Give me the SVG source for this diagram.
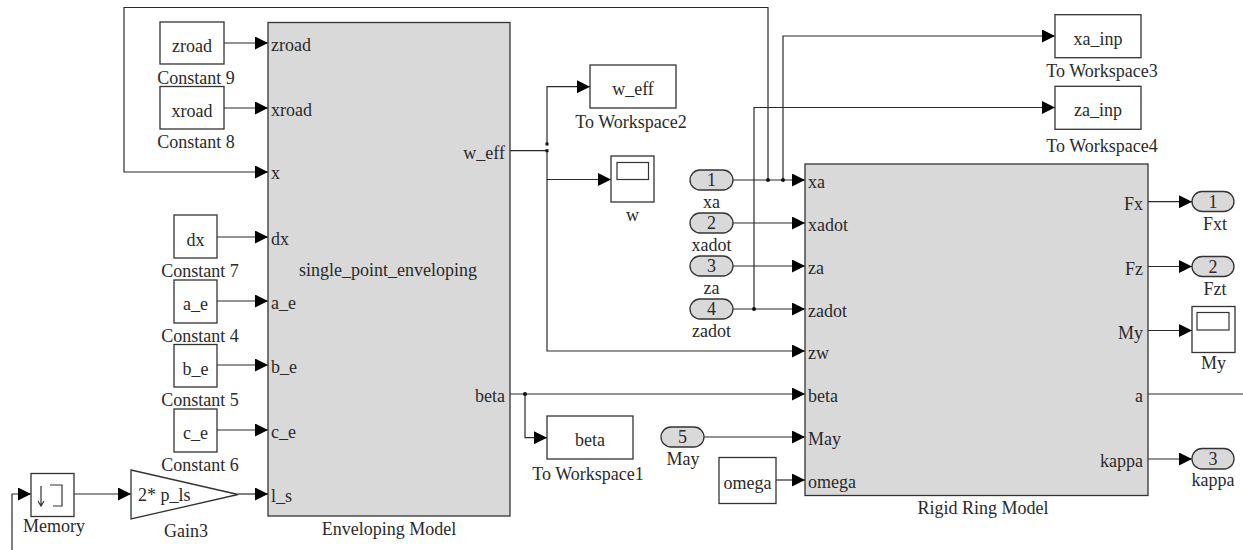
<svg xmlns="http://www.w3.org/2000/svg" width="1243" height="550" viewBox="0 0 1243 550">
  <style>
    text { font-family: "Liberation Serif", "Times New Roman", serif; font-size: 18px; fill: #2a2a2a; }
    .c { text-anchor: middle; }
    .r { text-anchor: end; }
    .blk { fill: #ffffff; stroke: #333333; stroke-width: 1.3; }
    .sub { fill: #d9d9d9; stroke: #333333; stroke-width: 1.3; }
    .port { fill: #d9d9d9; stroke: #333333; stroke-width: 1.3; }
    .wire { fill: none; stroke: #2a2a2a; stroke-width: 1.2; }
    .arr { marker-end: url(#head); }
    .dot { fill: #111111; }
    .icon { fill: none; stroke: #333333; stroke-width: 1.2; }
  </style>
  <defs>
    <marker id="head" markerUnits="userSpaceOnUse" markerWidth="13" markerHeight="13" refX="13" refY="6.5" orient="auto">
      <path d="M0,0 L13,6.5 L0,13 z" fill="#000000"/>
    </marker>
  </defs>

  <!-- signal lines -->
  <g id="connectors">
    <!-- feedback of x into the enveloping block -->
    <path class="wire arr" d="M768,180 V7.5 H124 V172 H268"/>
    <path class="wire arr" d="M224,43 H268"/>
    <path class="wire arr" d="M224,108 H268"/>
    <path class="wire arr" d="M217,237 H268"/>
    <path class="wire arr" d="M217,301 H268"/>
    <path class="wire arr" d="M217,365 H268"/>
    <path class="wire arr" d="M217,430 H268"/>
    <path class="wire arr" d="M12,550 V494 H31"/>
    <path class="wire arr" d="M74,494 H131"/>
    <path class="wire arr" d="M238,494 H268"/>
    <!-- w_eff distribution -->
    <path class="wire" d="M510,150.7 H547"/>
    <path class="wire arr" d="M547,144 V86.7 H590"/>
    <path class="wire arr" d="M547,150.7 V179.5 H611"/>
    <path class="wire arr" d="M547,179.5 V351 H805"/>
    <!-- beta distribution -->
    <path class="wire arr" d="M510,394 H805"/>
    <path class="wire arr" d="M525,394 V437.7 H547"/>
    <!-- inports to rigid ring -->
    <path class="wire arr" d="M733,180 H805"/>
    <path class="wire arr" d="M783,180 V36 H1055"/>
    <path class="wire arr" d="M733,223 H805"/>
    <path class="wire arr" d="M733,266 H805"/>
    <path class="wire arr" d="M733,309 H805"/>
    <path class="wire arr" d="M754,309 V107.5 H1055"/>
    <path class="wire arr" d="M704,437 H805"/>
    <path class="wire arr" d="M776,480 H805"/>
    <!-- rigid ring outputs -->
    <path class="wire arr" d="M1148,201.7 H1192"/>
    <path class="wire arr" d="M1148,266.5 H1192"/>
    <path class="wire arr" d="M1148,330.5 H1192"/>
    <path class="wire" d="M1148,394 H1243"/>
    <path class="wire arr" d="M1148,459 H1192"/>
    <!-- branch points -->
    <rect class="dot" x="545.5" y="142.5" width="3" height="3"/>
    <rect class="dot" x="545.5" y="149.2" width="3" height="3"/>
    <circle class="dot" cx="525" cy="394" r="2"/>
    <circle class="dot" cx="768" cy="180" r="2"/>
    <circle class="dot" cx="783" cy="180" r="2"/>
    <circle class="dot" cx="754" cy="309" r="2"/>
  </g>

  <!-- constants feeding the enveloping model -->
  <g id="constant9">
    <rect class="blk" x="160" y="22" width="64" height="42"/>
    <text class="c" x="192" y="52">zroad</text>
    <text class="c" x="196" y="84">Constant 9</text>
  </g>
  <g id="constant8">
    <rect class="blk" x="160" y="86.5" width="64" height="42.5"/>
    <text class="c" x="192" y="117">xroad</text>
    <text class="c" x="196" y="148">Constant 8</text>
  </g>
  <g id="constant7">
    <rect class="blk" x="174" y="215" width="43" height="43"/>
    <text class="c" x="195.5" y="245.5">dx</text>
    <text class="c" x="200" y="277">Constant 7</text>
  </g>
  <g id="constant4">
    <rect class="blk" x="174" y="280" width="43" height="43"/>
    <text class="c" x="195.5" y="310">a_e</text>
    <text class="c" x="200" y="342">Constant 4</text>
  </g>
  <g id="constant5">
    <rect class="blk" x="174" y="344.5" width="43" height="42.5"/>
    <text class="c" x="195.5" y="374.5">b_e</text>
    <text class="c" x="200" y="406">Constant 5</text>
  </g>
  <g id="constant6">
    <rect class="blk" x="174" y="409" width="43" height="43"/>
    <text class="c" x="195.5" y="439">c_e</text>
    <text class="c" x="200" y="471">Constant 6</text>
  </g>

  <!-- memory and gain -->
  <g id="memory">
    <rect class="blk" x="31" y="473.5" width="43" height="43"/>
    <path class="icon" d="M41,486 V506 M38,501 L41,506 L44,501 M50,485 H62 V506 H53"/>
    <text class="c" x="54" y="532">Memory</text>
  </g>
  <g id="gain3">
    <path class="blk" d="M131,470 L238,494.5 L131,519 Z"/>
    <text x="138" y="501">2* p_ls</text>
    <text class="c" x="186" y="537">Gain3</text>
  </g>

  <!-- enveloping subsystem -->
  <g id="enveloping-model">
    <rect class="sub" x="268" y="22.5" width="242" height="493.5"/>
    <text x="271" y="51">zroad</text>
    <text x="271" y="116">xroad</text>
    <text x="271" y="179">x</text>
    <text x="271" y="245">dx</text>
    <text x="271" y="309">a_e</text>
    <text x="271" y="373">b_e</text>
    <text x="271" y="438">c_e</text>
    <text x="271" y="502">l_s</text>
    <text class="r" x="505" y="159">w_eff</text>
    <text class="r" x="505" y="402">beta</text>
    <text class="c" x="388" y="276">single_point_enveloping</text>
    <text class="c" x="389" y="535">Enveloping Model</text>
  </g>

  <!-- workspace sinks and scopes -->
  <g id="to-workspace2">
    <rect class="blk" x="590" y="65" width="86" height="43"/>
    <text class="c" x="633" y="95">w_eff</text>
    <text class="c" x="631" y="128">To Workspace2</text>
  </g>
  <g id="scope-w">
    <rect class="blk" x="611" y="156" width="43" height="46"/>
    <rect class="icon" x="617" y="162.5" width="31.5" height="17"/>
    <text class="c" x="632.5" y="221">w</text>
  </g>
  <g id="to-workspace1">
    <rect class="blk" x="547" y="416" width="86" height="43"/>
    <text class="c" x="590" y="446">beta</text>
    <text class="c" x="588" y="480">To Workspace1</text>
  </g>
  <g id="to-workspace3">
    <rect class="blk" x="1055" y="14.7" width="86" height="43"/>
    <text class="c" x="1098" y="45">xa_inp</text>
    <text class="c" x="1102" y="77">To Workspace3</text>
  </g>
  <g id="to-workspace4">
    <rect class="blk" x="1055" y="86.3" width="86" height="43"/>
    <text class="c" x="1098" y="116">za_inp</text>
    <text class="c" x="1102" y="152">To Workspace4</text>
  </g>

  <!-- inports -->
  <g id="in-xa">
    <rect class="port" x="690" y="170" width="43" height="20" rx="10"/>
    <text class="c" x="711.5" y="186">1</text>
    <text class="c" x="711.5" y="208">xa</text>
  </g>
  <g id="in-xadot">
    <rect class="port" x="690" y="213" width="43" height="20" rx="10"/>
    <text class="c" x="711.5" y="229">2</text>
    <text class="c" x="711.5" y="251">xadot</text>
  </g>
  <g id="in-za">
    <rect class="port" x="690" y="256" width="43" height="20" rx="10"/>
    <text class="c" x="711.5" y="272">3</text>
    <text class="c" x="711.5" y="294">za</text>
  </g>
  <g id="in-zadot">
    <rect class="port" x="690" y="299" width="43" height="20" rx="10"/>
    <text class="c" x="711.5" y="315">4</text>
    <text class="c" x="711.5" y="337">zadot</text>
  </g>
  <g id="in-may">
    <rect class="port" x="661" y="427" width="43" height="20" rx="10"/>
    <text class="c" x="682.5" y="443">5</text>
    <text class="c" x="683" y="465">May</text>
  </g>
  <g id="const-omega">
    <rect class="blk" x="719" y="457.5" width="57" height="46"/>
    <text class="c" x="747.5" y="489">omega</text>
  </g>

  <!-- rigid ring subsystem -->
  <g id="rigid-ring-model">
    <rect class="sub" x="805" y="164" width="343" height="331.5"/>
    <text x="808" y="188">xa</text>
    <text x="808" y="231">xadot</text>
    <text x="808" y="274">za</text>
    <text x="808" y="317">zadot</text>
    <text x="808" y="359">zw</text>
    <text x="808" y="402">beta</text>
    <text x="808" y="445">May</text>
    <text x="808" y="488">omega</text>
    <text class="r" x="1143" y="210">Fx</text>
    <text class="r" x="1143" y="275">Fz</text>
    <text class="r" x="1143" y="339">My</text>
    <text class="r" x="1143" y="402">a</text>
    <text class="r" x="1143" y="467">kappa</text>
    <text class="c" x="983" y="514">Rigid Ring Model</text>
  </g>

  <!-- outports -->
  <g id="out-fxt">
    <rect class="port" x="1192" y="191.5" width="42" height="20" rx="10"/>
    <text class="c" x="1213" y="207.5">1</text>
    <text class="c" x="1215" y="230">Fxt</text>
  </g>
  <g id="out-fzt">
    <rect class="port" x="1192" y="256.5" width="42" height="20" rx="10"/>
    <text class="c" x="1213" y="272.5">2</text>
    <text class="c" x="1215" y="295">Fzt</text>
  </g>
  <g id="scope-my">
    <rect class="blk" x="1192" y="306.5" width="43" height="46"/>
    <rect class="icon" x="1197" y="312.5" width="32" height="17.5"/>
    <text class="c" x="1213.5" y="369">My</text>
  </g>
  <g id="out-kappa">
    <rect class="port" x="1192" y="448.5" width="42" height="20.5" rx="10"/>
    <text class="c" x="1213" y="465">3</text>
    <text class="c" x="1213" y="486">kappa</text>
  </g>
</svg>
